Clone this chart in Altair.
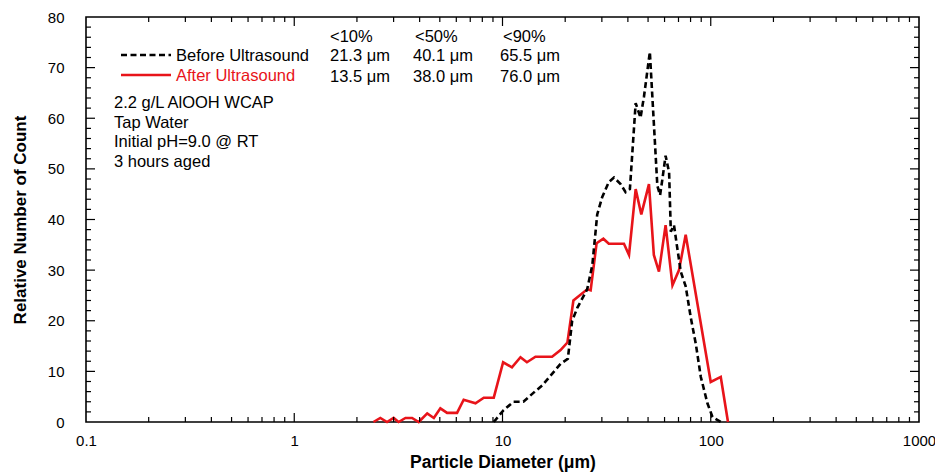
import altair as alt
import pandas as pd

# ---- data ----
before_d = [9.08, 10.1, 11.3, 12.6, 14.2, 15.5, 17.3, 19.0, 20.6, 21.6, 22.9, 25.5, 27.0, 28.5,
            30.1, 32.4, 34.3, 36.9, 39.0, 40.9, 43.6, 46.0, 47.8, 51.0, 55.4, 57.1, 58.6, 60.7,
            63.1, 64.3, 66.6, 68.7, 71.8, 75.8, 80.2, 84.8, 89.6, 96.4, 101.9, 111.7]
before_c = [0, 2.3, 4, 4, 5.9, 7.2, 9.5, 11.5, 12.5, 20, 22.6, 26.2, 31, 41,
            44.4, 47.4, 48.3, 47, 45.4, 46, 63, 60.1, 64.3, 73.1, 46.7, 44.8, 48, 52.6,
            49.3, 37.6, 38.9, 35, 29.7, 26.8, 20.6, 15.4, 8.9, 3.7, 1, 0]

after_d = [2.40, 2.59, 2.79, 3.00, 3.17, 3.42, 3.68, 3.96, 4.35, 4.68, 5.03, 5.42, 6.05, 6.51,
           7.42, 8.13, 9.08, 10.07, 11.1, 12.2, 13.1, 14.4, 17.3, 19.0, 20.5, 21.9, 25.5, 26.5,
           28.3, 30.5, 32.4, 38.3, 40.5, 43.6, 46.4, 50.5, 53.3, 56.4, 60.7, 65.5, 70.4, 75.8,
           100, 111.7, 121]
after_c = [0, 0.8, 0, 0.8, 0, 0.8, 0.8, 0, 1.7, 0.8, 2.7, 1.8, 1.8, 4.4,
           3.7, 4.8, 4.8, 11.8, 10.8, 12.8, 11.8, 12.9, 12.9, 14.2, 15.7, 24, 26.2, 26,
           35.3, 36.2, 35.2, 35.2, 33, 46, 41, 47, 33, 29.7, 38.9, 27, 30, 37,
           7.9, 8.9, 0]

x_labels = [0.1, 1, 10, 100, 1000]
x_major_ticks = [1, 10, 100]
x_minor_ticks = [0.2, 0.3, 0.4, 0.5, 0.6, 0.7, 0.8, 0.9,
                 2, 3, 4, 5, 6, 7, 8, 9,
                 20, 30, 40, 50, 60, 70, 80, 90,
                 200, 300, 400, 500, 600, 700, 800, 900]
y_labels = [0, 10, 20, 30, 40, 50, 60, 70, 80]
y_major_ticks = [10, 20, 30, 40, 50, 60, 70]
y_minor_ticks = [2, 4, 6, 8, 12, 14, 16, 18, 22, 24, 26, 28, 32, 34, 36, 38, 42, 44, 46, 48,
                 52, 54, 56, 58, 62, 64, 66, 68, 72, 74, 76, 78]

series_names = ["Before Ultrasound", "After Ultrasound"]
col_heads = ["<10%", "<50%", "<90%"]
before_stats = ["21.3 μm", "40.1 μm", "65.5 μm"]
after_stats = ["13.5 μm", "38.0 μm", "76.0 μm"]
info_lines = ["2.2 g/L AlOOH WCAP", "Tap Water", "Initial pH=9.0 @ RT", "3 hours aged"]

# ---- style ----
TOP = 17
BOTTOM = 422
W, H = 833, BOTTOM - TOP
OFF = TOP - 13   # shift so annotations keep the reference's page positions
FONT = "Liberation Sans"
RED = "#e8141a"
XTITLE = "Particle Diameter (μm)"
YTITLE = "Relative Number of Count"
TXT = 16.5
xscale = alt.Scale(type="log", domain=[0.1, 1000])
yscale = alt.Scale(domain=[0, 80])

df_before = pd.DataFrame({"d": before_d, "c": before_c})
df_after = pd.DataFrame({"d": after_d, "c": after_c})

xaxis = alt.Axis(values=x_labels, format="~g", ticks=False, tickSize=0, domain=False, grid=False,
                 labelFont=FONT, labelFontSize=15, labelColor="black", labelPadding=11,
                 labelFlush=False, labelOverlap=False,
                 titleFont=FONT, titleFontSize=17.5, titleFontWeight="bold", titleColor="black",
                 titlePadding=5)
yaxis = alt.Axis(values=y_labels, ticks=False, tickSize=0, domain=False, grid=False,
                 labelFont=FONT, labelFontSize=15, labelColor="black", labelPadding=22,
                 labelFlush=False,
                 titleFont=FONT, titleFontSize=17, titleFontWeight="bold", titleColor="black",
                 titlePadding=18)

def X(field):
    return alt.X(field, scale=xscale, axis=xaxis, title=XTITLE)

def Y(field):
    return alt.Y(field, scale=yscale, axis=yaxis, title=YTITLE)

after_line = alt.Chart(df_after).mark_line(color=RED, strokeWidth=2.6).encode(
    x=X("d:Q"), y=Y("c:Q"), order=alt.Order("d:Q"),
)
before_line = alt.Chart(df_before).mark_line(color="black", strokeWidth=2.6, strokeDash=[6, 3.5]).encode(
    x=X("d:Q"), y=Y("c:Q"), order=alt.Order("d:Q"),
)

def xticks(vals, length):
    d = pd.DataFrame({"v": vals})
    bottom = alt.Chart(d).mark_rule(color="black", strokeWidth=1.2).encode(
        x=X("v:Q"), y=alt.value(H), y2=alt.value(H - length))
    top = alt.Chart(d).mark_rule(color="black", strokeWidth=1.2).encode(
        x=X("v:Q"), y=alt.value(0), y2=alt.value(length))
    return [bottom, top]

def yticks(vals, length):
    d = pd.DataFrame({"v": vals})
    left = alt.Chart(d).mark_rule(color="black", strokeWidth=1.2).encode(
        y=Y("v:Q"), x=alt.value(0), x2=alt.value(length))
    right = alt.Chart(d).mark_rule(color="black", strokeWidth=1.2).encode(
        y=Y("v:Q"), x=alt.value(W), x2=alt.value(W - length))
    return [left, right]

def text_at(s, x, y, color="black", size=TXT):
    return alt.Chart(pd.DataFrame({"t": [s]})).mark_text(
        align="left", baseline="middle", font=FONT, fontSize=size, color=color
    ).encode(text="t:N", x=alt.value(x), y=alt.value(y - OFF))

layers = [after_line, before_line]
layers += xticks(x_major_ticks, 9) + xticks(x_minor_ticks, 5)
layers += yticks(y_major_ticks, 9) + yticks(y_minor_ticks, 5)

# legend samples
layers.append(alt.Chart(pd.DataFrame({"s": [series_names[0]]})).mark_rule(
    color="black", strokeWidth=2.6, strokeDash=[6, 3.5]).encode(
    x=alt.value(35), x2=alt.value(85), y=alt.value(42 - OFF)))
layers.append(alt.Chart(pd.DataFrame({"s": [series_names[1]]})).mark_rule(
    color=RED, strokeWidth=2.6).encode(
    x=alt.value(35), x2=alt.value(85), y=alt.value(62 - OFF)))
layers.append(text_at(series_names[0], 90, 43))
layers.append(text_at(series_names[1], 90, 63, color=RED))

col_x = [244, 327, 414]
for i in range(3):
    layers.append(text_at(col_heads[i], col_x[i] + (0, 2, 3)[i], 24))
    layers.append(text_at(before_stats[i], col_x[i], 43))
    layers.append(text_at(after_stats[i], col_x[i], 64))

for i, s in enumerate(info_lines):
    layers.append(text_at(s, 28, 89.7 + 19.8 * i))

chart = alt.layer(*layers).properties(
    width=W, height=H,
    background="white",
    autosize=alt.AutoSizeParams(type="none"),
    padding={"left": 78, "top": TOP - 8, "right": 16, "bottom": 50},
).configure_view(stroke="black", strokeWidth=1.6)

chart.save("out.html", embed_options={"renderer": "svg", "actions": False})
